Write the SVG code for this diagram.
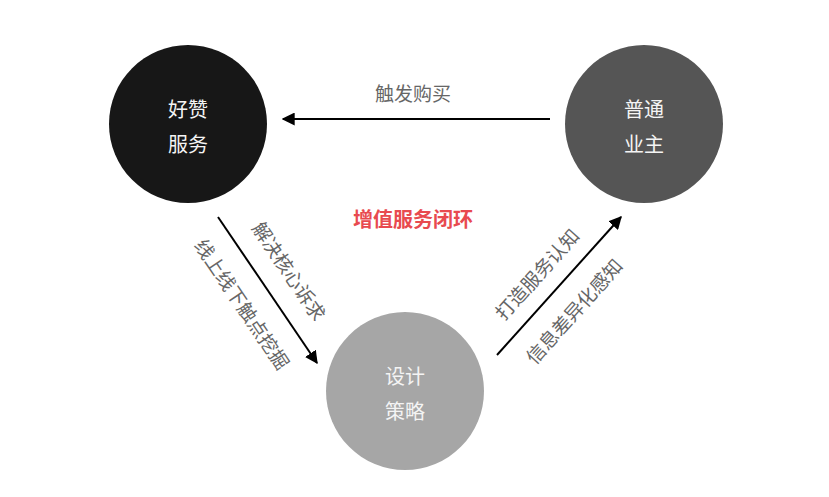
<svg xmlns="http://www.w3.org/2000/svg" width="829" height="497" viewBox="0 0 829 497">
<style>
text{font-family:"Noto Sans CJK SC","Noto Sans",sans-serif;}
.nt{fill:#f4f4f4;font-size:20px;text-anchor:middle;}
.lb{fill:#666666;font-size:19px;text-anchor:middle;}
.ln{stroke:#000;stroke-width:2;fill:none;marker-end:url(#ah);}
</style>
<defs>
<marker id="ah" viewBox="0 0 10 10" refX="9" refY="5" markerWidth="6.5" markerHeight="6.5" orient="auto" markerUnits="strokeWidth">
<path d="M0,0 L10,5 L0,10 Z" fill="#000"/>
</marker>
</defs>
<rect width="829" height="497" fill="#ffffff"/>
<g id="connectors">
<line class="ln" x1="550" y1="119" x2="283" y2="119"/>
<line class="ln" x1="218" y1="217" x2="317" y2="363"/>
<line class="ln" x1="497" y1="355" x2="621" y2="217"/>
</g>
<g id="node-haozan">
<circle cx="188" cy="124" r="79" fill="#171717"/>
<text class="nt" x="188" y="117">好赞</text>
<text class="nt" x="188" y="152">服务</text>
</g>
<g id="node-putong">
<circle cx="644" cy="124" r="79" fill="#555555"/>
<text class="nt" x="644" y="117">普通</text>
<text class="nt" x="644" y="152">业主</text>
</g>
<g id="node-sheji">
<circle cx="405" cy="391" r="79" fill="#a6a6a6"/>
<text class="nt" x="405" y="384">设计</text>
<text class="nt" x="405" y="419">策略</text>
</g>
<g id="labels">
<text class="lb" x="413" y="101">触发购买</text>
<text x="413" y="227" font-size="20" font-weight="bold" fill="#e84a4f" text-anchor="middle">增值服务闭环</text>
<text class="lb" transform="translate(288,272) rotate(56)" y="6">解决核心诉求</text>
<text class="lb" transform="translate(241,305) rotate(56)" y="6">线上线下触点挖掘</text>
<text class="lb" transform="translate(538,275) rotate(-48)" y="6">打造服务认知</text>
<text class="lb" transform="translate(575,312) rotate(-48)" y="6">信息差异化感知</text>
</g>
</svg>
